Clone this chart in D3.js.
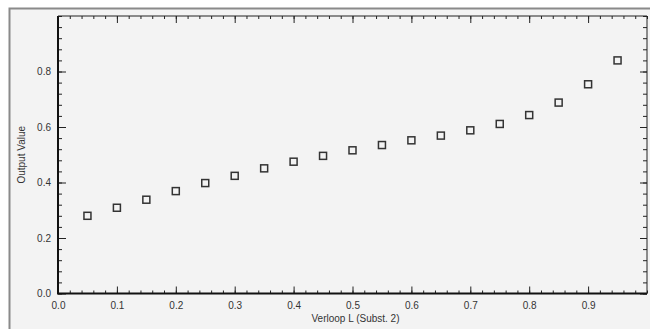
<!DOCTYPE html>
<html>
<head>
<meta charset="utf-8">
<script src="https://cdn.jsdelivr.net/npm/d3@7"></script>
<style>
  body { margin: 0; background: #fff; }
  svg text { font-family: "Liberation Sans", Arial, sans-serif; fill: #333; }
</style>
</head>
<body>
<div id="chart"></div>
<script>
// data
const xValues = [0.05, 0.10, 0.15, 0.20, 0.25, 0.30, 0.35, 0.40, 0.45, 0.50,
                 0.55, 0.60, 0.65, 0.70, 0.75, 0.80, 0.85, 0.90, 0.95];
const yValues = [0.280, 0.309, 0.338, 0.369, 0.398, 0.424, 0.451, 0.475, 0.496, 0.516,
                 0.535, 0.552, 0.569, 0.588, 0.611, 0.643, 0.688, 0.754, 0.840];
const xTicks = [0.0, 0.1, 0.2, 0.3, 0.4, 0.5, 0.6, 0.7, 0.8, 0.9];
const yTicks = [0.0, 0.2, 0.4, 0.6, 0.8];
const xMinor = d3.range(0, 1.001, 0.02);
const yMinor = d3.range(0, 1.001, 0.04);

const width = 650, height = 329;
const margin = {top: 16, right: 3, bottom: 35.5, left: 58};
const plotW = width - margin.left - margin.right;
const plotH = height - margin.top - margin.bottom;

let svg = d3.select("#chart").append("svg")
    .attr("width", width)
    .attr("height", height);

// grey panel + frame
svg.append("rect")
    .attr("x", 10).attr("y", 9)
    .attr("width", width - 10).attr("height", height - 9)
    .attr("fill", "#f3f3f3");
svg.append("path")
    .attr("d", "M9.5," + height + "V8.5H" + width)
    .attr("fill", "none")
    .attr("stroke", "#8a8a8a")
    .attr("stroke-width", 2);

let g = svg.append("g")
    .attr("transform", `translate(${margin.left}, ${margin.top})`);

let x = d3.scaleLinear().domain([0, 1]).range([0, plotW]);
let y = d3.scaleLinear().domain([0, 1]).range([plotH, 0]);

function styleAxis(sel) {
    sel.select(".domain").remove();
    sel.selectAll("line").attr("stroke", "#222");
    sel.selectAll("text").style("font-size", "10px").attr("fill", "#333");
}

// minor ticks
g.append("g").attr("transform", `translate(0,${plotH})`)
    .call(d3.axisBottom(x).tickValues(xMinor).tickSize(-3).tickFormat(""))
    .call(styleAxis);
g.append("g")
    .call(d3.axisTop(x).tickValues(xMinor).tickSize(-3).tickFormat(""))
    .call(styleAxis);
g.append("g")
    .call(d3.axisLeft(y).tickValues(yMinor).tickSize(-4).tickFormat(""))
    .call(styleAxis);
g.append("g").attr("transform", `translate(${plotW},0)`)
    .call(d3.axisRight(y).tickValues(yMinor).tickSize(-4).tickFormat(""))
    .call(styleAxis);

// major ticks
g.append("g").attr("transform", `translate(0,${plotH})`)
    .call(d3.axisBottom(x).tickValues(xTicks).tickSize(-7).tickPadding(8).tickFormat(d3.format(".1f")))
    .call(styleAxis);
g.append("g")
    .call(d3.axisTop(x).tickValues(xTicks).tickSize(-7).tickFormat(""))
    .call(styleAxis);
g.append("g")
    .call(d3.axisLeft(y).tickValues(yTicks).tickSize(-8).tickPadding(7).tickFormat(d3.format(".1f")))
    .call(styleAxis);
g.append("g").attr("transform", `translate(${plotW},0)`)
    .call(d3.axisRight(y).tickValues(yTicks).tickSize(-7).tickFormat(""))
    .call(styleAxis);

// frame of the plot
g.append("path")
    .attr("d", `M0,0V${plotH}H${plotW}`)
    .attr("fill", "none")
    .attr("stroke", "#111")
    .attr("stroke-width", 2);
g.append("path")
    .attr("d", `M0,0H${plotW}V${plotH}`)
    .attr("fill", "none")
    .attr("stroke", "#222")
    .attr("stroke-width", 1);

// points
let data = xValues.map(function(d, i) { return {x: d, y: yValues[i]}; });
g.selectAll("rect.pt").data(data).enter()
    .append("rect")
    .attr("class", "pt")
    .attr("x", function(d) { return x(d.x) - 3.5; })
    .attr("y", function(d) { return y(d.y) - 3.5; })
    .attr("width", 7)
    .attr("height", 7)
    .attr("fill", "none")
    .attr("stroke", "#333")
    .attr("stroke-width", 1.5);

// axis titles
svg.append("text")
    .attr("x", margin.left + plotW / 2 + 3)
    .attr("y", 322)
    .style("text-anchor", "middle")
    .style("font-size", "10px")
    .text("Verloop L (Subst. 2)");

svg.append("text")
    .attr("transform", "translate(25," + (margin.top + plotH / 2) + ") rotate(-90)")
    .style("text-anchor", "middle")
    .style("font-size", "10px")
    .text("Output Value");
</script>
</body>
</html>
